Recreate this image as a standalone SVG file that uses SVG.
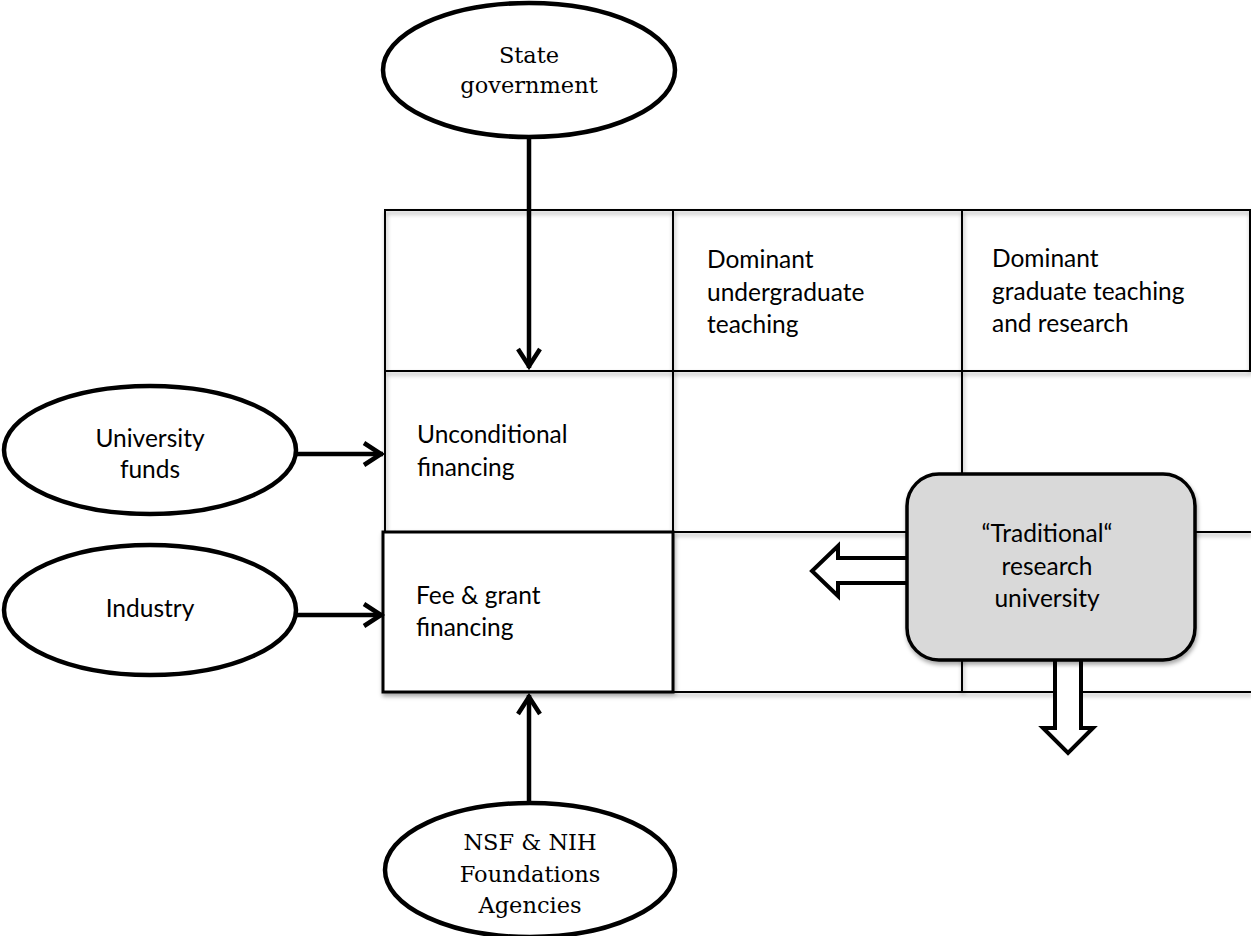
<svg xmlns="http://www.w3.org/2000/svg" width="1251" height="936" viewBox="0 0 1251 936">
<style>
.serif{font-family:"DejaVu Serif","Liberation Serif",serif;font-size:22.5px;fill:#000;text-anchor:middle}
.sans{font-family:Lato,"Open Sans",sans-serif;font-size:24.5px;fill:#000}
.mid{text-anchor:middle}
.ell{fill:#fff;stroke:#000;stroke-width:4.5}
.grid{fill:none;stroke:#000;stroke-width:2;stroke-linecap:square}
.conn{fill:none;stroke:#000;stroke-width:4.5}
.block{fill:#fff;stroke:#000;stroke-width:4;stroke-linejoin:miter}
</style>
<defs>
<filter id="sh" x="-5%" y="-5%" width="110%" height="115%">
<feDropShadow dx="1" dy="3" stdDeviation="2" flood-color="#000" flood-opacity="0.35"/>
</filter>
<marker id="chev" markerUnits="userSpaceOnUse" markerWidth="34" markerHeight="34" viewBox="-28 -17 34 34" refX="0" refY="0" orient="auto">
<path d="M-19,-11 L-2,0 L-19,11" fill="none" stroke="#000" stroke-width="4.5"/>
</marker>
</defs>
<rect width="1251" height="936" fill="#fff"/>

<g id="grid" filter="url(#sh)">
<path class="grid" d="M385,210 H1250 V371 M385,371 H1250 M385,210 V532 M673,210 V692 M962,210 V692 M385,532 H1251"/>
<rect x="383" y="532" width="290" height="160" fill="#fff" stroke="#000" stroke-width="3"/>
<path class="grid" d="M673,692 H1251"/>
</g>

<g id="cell-undergrad">
<text class="sans" x="707" y="268">Dominant</text>
<text class="sans" x="707" y="301">undergraduate</text>
<text class="sans" x="707" y="333">teaching</text>
</g>
<g id="cell-graduate">
<text class="sans" x="992" y="267">Dominant</text>
<text class="sans" x="992" y="300">graduate teaching</text>
<text class="sans" x="992" y="332">and research</text>
</g>
<g id="cell-unconditional">
<text class="sans" x="417" y="443">Unconditional</text>
<text class="sans" x="417" y="476">financing</text>
</g>
<g id="cell-fee">
<text class="sans" x="416" y="604">Fee &amp; grant</text>
<text class="sans" x="416" y="636">financing</text>
</g>

<g id="connectors">
<path class="conn" d="M529,137 V368" marker-end="url(#chev)"/>
<path class="conn" d="M297,454 H383" marker-end="url(#chev)"/>
<path class="conn" d="M297,615 H383" marker-end="url(#chev)"/>
<path class="conn" d="M529,803 V695" marker-end="url(#chev)"/>
<path class="block" d="M907,558 H838 V546 L812,571 L838,596 V583 H907"/>
<path class="block" d="M1055,658 V728 H1043 L1068,753 L1093,728 H1081 V658"/>
</g>

<g id="node-state">
<ellipse class="ell" cx="529" cy="70" rx="146" ry="67"/>
<text class="serif" x="529" y="63">State</text>
<text class="serif" x="529" y="93">government</text>
</g>
<g id="node-univfunds">
<ellipse class="ell" cx="150" cy="450" rx="146" ry="64"/>
<text class="sans mid" x="150" y="447">University</text>
<text class="sans mid" x="150" y="478">funds</text>
</g>
<g id="node-industry">
<ellipse class="ell" cx="150" cy="610" rx="146" ry="65"/>
<text class="sans mid" x="150" y="617">Industry</text>
</g>
<g id="node-nsf">
<ellipse class="ell" cx="530" cy="870" rx="145" ry="67"/>
<text class="serif" x="530" y="850">NSF &amp; NIH</text>
<text class="serif" x="530" y="882">Foundations</text>
<text class="serif" x="530" y="913">Agencies</text>
</g>
<g id="node-traditional">
<rect x="907" y="474" width="288" height="186" rx="32" ry="32" fill="#d9d9d9" stroke="#000" stroke-width="3.5" filter="url(#sh)"/>
<text class="sans mid" x="1047" y="542">“Traditional“</text>
<text class="sans mid" x="1047" y="575">research</text>
<text class="sans mid" x="1047" y="607">university</text>
</g>
</svg>
